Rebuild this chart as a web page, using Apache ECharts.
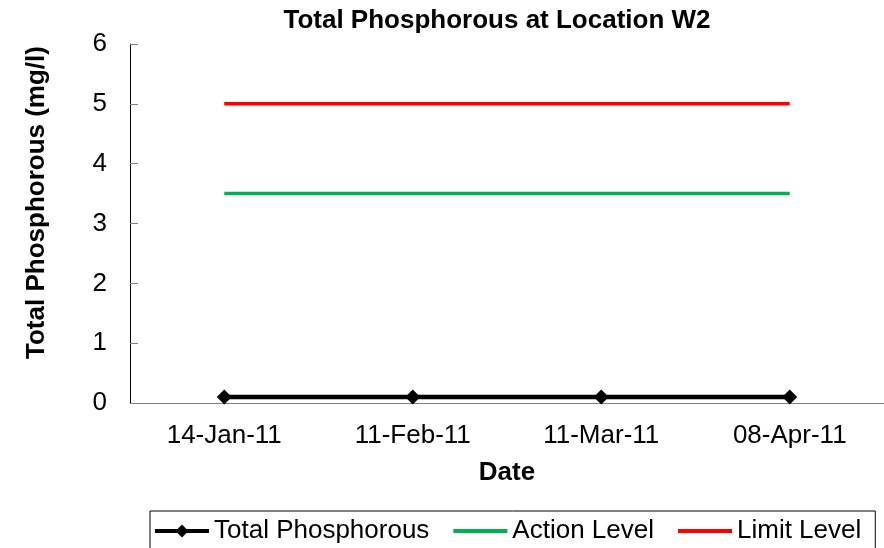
<!DOCTYPE html>
<html>
<head>
<meta charset="utf-8">
<script src="https://cdn.jsdelivr.net/npm/echarts@6/dist/echarts.min.js"></script>
<style>
  html, body { margin: 0; padding: 0; background: #fff; }
  #chart { width: 884px; height: 548px; }
</style>
</head>
<body>
<div id="chart"></div>
<script>
let dates = ['14-Jan-11', '11-Feb-11', '11-Mar-11', '08-Apr-11'];
let total_p = [0.1, 0.1, 0.1, 0.1];
let action_level = [3.5, 3.5, 3.5, 3.5];
let limit_level = [5, 5, 5, 5];
let y_ticks = [0, 6, 1];

let font = 'Liberation Sans, Arial, sans-serif';
let chart = echarts.init(document.getElementById('chart'));

let option = {
    animation: false,
    backgroundColor: '#fff',
    title: {
        text: 'Total Phosphorous at Location W2',
        left: 492,
        textAlign: 'center',
        top: 3,
        textStyle: { fontFamily: font, fontSize: 26, fontWeight: 'bold', color: '#000' }
    },
    grid: { left: 130, top: 44, width: 760, height: 359 },
    xAxis: {
        type: 'category',
        data: dates,
        boundaryGap: true,
        name: 'Date',
        nameLocation: 'middle',
        nameGap: 57,
        nameTextStyle: { fontFamily: font, fontSize: 26, fontWeight: 'bold', color: '#000' },
        axisLine: { lineStyle: { color: '#808080', width: 1 } },
        axisTick: { inside: true, length: 8, lineStyle: { color: '#808080' } },
        axisLabel: { fontFamily: font, fontSize: 26, color: '#000', margin: 20 },
        splitLine: { show: false }
    },
    yAxis: {
        type: 'value',
        min: y_ticks[0],
        max: y_ticks[1],
        interval: y_ticks[2],
        name: 'Total Phosphorous (mg/l)',
        nameLocation: 'middle',
        nameGap: 80,
        nameTextStyle: { fontFamily: font, fontSize: 26, fontWeight: 'bold', color: '#000', padding: [0, 0, 0, 42] },
        axisLine: { show: true, lineStyle: { color: '#000', width: 1 } },
        axisTick: { show: true, inside: true, length: 8, lineStyle: { color: '#808080' } },
        axisLabel: { fontFamily: font, fontSize: 26, color: '#000', margin: 23 },
        splitLine: { show: false }
    },
    legend: {
        left: 150,
        top: 511,
        itemGap: 22,
        itemWidth: 54,
        itemHeight: 16,
        padding: [7, 14, 16, 3],
        borderColor: '#000',
        borderWidth: 1,
        borderRadius: 0,
        lineStyle: { width: 4 },
        textStyle: { fontFamily: font, fontSize: 26, color: '#000', padding: [0, 0, 0, 0] },
        data: ['Total Phosphorous', 'Action Level', 'Limit Level']
    },
    series: [
        {
            name: 'Total Phosphorous',
            type: 'line',
            data: total_p,
            symbol: 'diamond',
            symbolSize: 15,
            itemStyle: { color: '#000' },
            lineStyle: { color: '#000', width: 4.5 }
        },
        {
            name: 'Action Level',
            type: 'line',
            data: action_level,
            symbol: 'none',
            itemStyle: { color: 'rgba(0,0,0,0)' },
            lineStyle: { color: '#00B050', width: 3.5 }
        },
        {
            name: 'Limit Level',
            type: 'line',
            data: limit_level,
            symbol: 'none',
            itemStyle: { color: 'rgba(0,0,0,0)' },
            lineStyle: { color: '#FF0000', width: 3.5 }
        }
    ]
};

chart.setOption(option);
</script>
</body>
</html>
